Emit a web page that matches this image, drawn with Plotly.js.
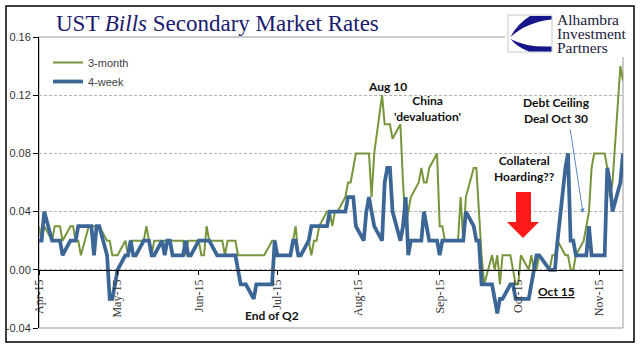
<!DOCTYPE html>
<html>
<head>
<meta charset="utf-8">
<script src="https://cdn.plot.ly/plotly-3.0.1.min.js"></script>
<style>html,body{margin:0;padding:0;background:#fff;}#chart{width:644px;height:361px;}</style>
</head>
<body>
<div id="chart"></div>
<script>
// ---- data (business days, 2015) ----
const dates = [
'2015-04-01','2015-04-02','2015-04-03','2015-04-06','2015-04-07','2015-04-08','2015-04-09','2015-04-10','2015-04-13','2015-04-14','2015-04-15','2015-04-16','2015-04-17','2015-04-20','2015-04-21','2015-04-22','2015-04-23','2015-04-24','2015-04-27','2015-04-28','2015-04-29','2015-04-30',
'2015-05-01','2015-05-04','2015-05-05','2015-05-06','2015-05-07','2015-05-08','2015-05-11','2015-05-12','2015-05-13','2015-05-14','2015-05-15','2015-05-18','2015-05-19','2015-05-20','2015-05-21','2015-05-22','2015-05-26','2015-05-27','2015-05-28','2015-05-29',
'2015-06-01','2015-06-02','2015-06-03','2015-06-04','2015-06-05','2015-06-08','2015-06-09','2015-06-10','2015-06-11','2015-06-12','2015-06-15','2015-06-16','2015-06-17','2015-06-18','2015-06-19','2015-06-22','2015-06-23','2015-06-24','2015-06-25','2015-06-26','2015-06-29','2015-06-30',
'2015-07-01','2015-07-02','2015-07-06','2015-07-07','2015-07-08','2015-07-09','2015-07-10','2015-07-13','2015-07-14','2015-07-15','2015-07-16','2015-07-17','2015-07-20','2015-07-21','2015-07-22','2015-07-23','2015-07-24','2015-07-27','2015-07-28','2015-07-29','2015-07-30','2015-07-31',
'2015-08-03','2015-08-04','2015-08-05','2015-08-06','2015-08-07','2015-08-10','2015-08-11','2015-08-12','2015-08-13','2015-08-14','2015-08-17','2015-08-18','2015-08-19','2015-08-20','2015-08-21','2015-08-24','2015-08-25','2015-08-26','2015-08-27','2015-08-28','2015-08-31',
'2015-09-01','2015-09-02','2015-09-03','2015-09-04','2015-09-08','2015-09-09','2015-09-10','2015-09-11','2015-09-14','2015-09-15','2015-09-16','2015-09-17','2015-09-18','2015-09-21','2015-09-22','2015-09-23','2015-09-24','2015-09-25','2015-09-28','2015-09-29','2015-09-30',
'2015-10-01','2015-10-02','2015-10-05','2015-10-06','2015-10-07','2015-10-08','2015-10-09','2015-10-13','2015-10-14','2015-10-15','2015-10-16','2015-10-19','2015-10-20','2015-10-21','2015-10-22','2015-10-23','2015-10-26','2015-10-27','2015-10-28','2015-10-29','2015-10-30',
'2015-11-02','2015-11-03','2015-11-04','2015-11-05','2015-11-06','2015-11-09','2015-11-10'
];
const threeMonth = [
0.03,0.02,0.03,0.02,0.03,0.03,0.03,0.02,0.03,0.03,0.02,0.02,0.01,0.03,0.03,0.03,0.03,0.03,0.02,0.02,0.01,0.01,
0.01,0.02,0.01,0.02,0.02,0.02,0.02,0.03,0.02,0.01,0.02,0.02,0.02,0.02,0.02,0.02,0.02,0.01,0.02,0.02,
0.02,0.01,0.01,0.03,0.02,0.02,0.02,0.02,0.01,0.02,0.02,0.01,0.01,0.01,0.01,0.01,0.01,0.01,0.01,0.01,0.02,0.02,
0.01,0.01,0.01,0.02,0.03,0.01,0.01,0.02,0.01,0.02,0.02,0.03,0.04,0.04,0.03,0.04,0.04,0.05,0.06,0.06,0.07,0.08,
0.08,0.08,0.08,0.05,0.08,0.12,0.10,0.10,0.10,0.09,0.10,0.06,0.03,0.04,0.05,0.06,0.07,0.06,0.06,0.07,0.08,
0.03,0.03,0.02,0.02,0.02,0.05,0.02,0.05,0.07,0.07,0.04,0.01,-0.01,0.01,0.00,0.01,-0.01,0.01,0.01,0.00,-0.01,
-0.01,0.01,0.00,0.01,0.00,0.00,0.01,0.00,0.01,0.01,0.02,0.01,0.01,0.00,0.00,0.01,0.02,0.03,0.04,0.07,0.08,
0.08,0.08,0.07,0.05,0.06,0.14,0.13
];
const fourWeek = [
0.02,0.02,0.04,0.02,0.02,0.02,0.02,0.01,0.02,0.02,0.02,0.03,0.03,0.03,0.03,0.01,0.03,0.03,0.01,-0.02,-0.02,-0.01,
0.00,0.01,0.01,0.02,0.01,0.01,0.02,0.02,0.02,0.01,0.01,0.02,0.01,0.02,0.02,0.01,0.01,0.02,0.01,0.01,
0.02,0.02,0.02,0.02,0.02,0.01,0.01,0.01,0.01,0.01,0.01,0.00,-0.01,-0.01,-0.01,-0.02,-0.01,-0.01,-0.01,-0.01,-0.01,0.02,
0.01,0.01,0.01,0.02,0.02,0.01,0.01,0.02,0.03,0.03,0.03,0.03,0.03,0.04,0.04,0.04,0.04,0.04,0.05,0.05,0.05,0.03,
0.02,0.04,0.05,0.04,0.03,0.02,0.06,0.07,0.07,0.04,0.02,0.03,0.05,0.01,0.02,0.02,0.02,0.04,0.03,0.02,0.02,
0.01,0.02,0.02,0.02,0.02,0.02,0.02,0.04,0.03,0.02,0.02,-0.01,-0.01,-0.01,-0.02,-0.03,-0.02,-0.02,-0.01,-0.01,-0.02,
-0.02,-0.02,-0.02,-0.01,0.00,0.01,0.01,0.00,0.00,0.00,0.02,0.07,0.08,0.02,0.02,0.01,0.01,0.01,0.03,0.01,0.01,
0.01,0.01,0.07,0.06,0.04,0.06,0.08
];
const seriesNames = ['3-month','4-week'];
const xTickVals = ['2015-04-01','2015-05-01','2015-06-01','2015-07-01','2015-08-01','2015-09-01','2015-10-01','2015-11-01'];
const xTickText = ['Apr-15','May-15','Jun-15','Jul-15','Aug-15','Sep-15','Oct-15','Nov-15'];
const yTickVals = [-0.04,0.00,0.04,0.08,0.12,0.16];
const yTickText = ['-0.04','0.00','0.04','0.08','0.12','0.16'];

// ---- layout geometry helpers (pixel -> paper) ----
const M = {l:39, r:21, t:37, b:33};
const W = 644, H = 361;
const PW = W - M.l - M.r, PH = H - M.t - M.b;
const px = v => (v - M.l) / PW;
const py = v => (H - M.b - v) / PH;
function pathPx(pts){
  return pts.map(p => {
    const c = p[0]; const nums = p.slice(1);
    const out = [];
    for (let i=0;i<nums.length;i+=2){ out.push(px(nums[i]).toFixed(5)+','+py(nums[i+1]).toFixed(5)); }
    return c + ' ' + out.join(' ');
  }).join(' ') + ' Z';
}

const green = '#77963C', blue = '#3B6696';
const traces = [
  {x: dates, y: threeMonth, name: seriesNames[0], type:'scatter', mode:'lines',
   line:{color:green, width:2}},
  {x: dates, y: fourWeek, name: seriesNames[1], type:'scatter', mode:'lines',
   line:{color:blue, width:3.75}}
];

const annFont = {family:'Lato, "Open Sans", sans-serif', size:12, color:'#111'};
const ann = (text, cx, cy) => ({text:'<b>'+text+'</b>', xref:'paper', yref:'paper', x:px(cx), y:py(cy),
  xanchor:'center', yanchor:'middle', showarrow:false, font:annFont, align:'center'});
const logoFont = {family:'"Liberation Serif", "Times New Roman", serif', size:15.5, color:'#1b1b3d'};

const layout = {
  width: W, height: H,
  margin: M,
  paper_bgcolor:'#fff', plot_bgcolor:'#fff',
  title: {text:'UST <i>Bills</i> Secondary Market Rates', xref:'container', yref:'container',
    x: 56/W, xanchor:'left', y: 1 - 23/H, yanchor:'middle',
    font:{family:'"Liberation Serif", "Times New Roman", serif', size:23, color:'#1a1a6e'}},
  showlegend:true,
  legend:{x:px(48), y:py(48), xanchor:'left', yanchor:'top', bgcolor:'rgba(0,0,0,0)',
    font:{family:'"Liberation Sans", Arial, sans-serif', size:11, color:'#404040'}},
  xaxis:{type:'date', range:['2015-04-01','2015-11-10'], anchor:'free', position:0.2,
    showline:true, linecolor:'#000', linewidth:1, ticks:'outside', ticklen:4, tickcolor:'#000',
    tickmode:'array', tickvals:xTickVals, ticktext:xTickText, tickangle:-90,
    tickfont:{family:'"Liberation Serif", "Times New Roman", serif', size:12, color:'#333'},
    showgrid:false, zeroline:false, automargin:false, fixedrange:true},
  yaxis:{range:[-0.04,0.16], tickmode:'array', tickvals:yTickVals, ticktext:yTickText,
    showline:true, linecolor:'#000', linewidth:1, ticks:'outside', ticklen:5, tickcolor:'#000',
    showgrid:true, gridcolor:'#b4b4b4', gridwidth:1, griddash:'3px,2px', zeroline:false,
    tickfont:{family:'"Liberation Sans", Arial, sans-serif', size:11, color:'#333'},
    automargin:false, fixedrange:true},
  shapes:[
    {type:'rect', xref:'paper', yref:'paper', x0:0, x1:1, y0:0, y1:1, line:{color:'#9a9a9a', width:1}, layer:'below'},
    {type:'rect', xref:'paper', yref:'paper', x0:px(505), x1:px(632), y0:py(57), y1:py(8), line:{width:0}, fillcolor:'#fff', layer:'above'},
    {type:'rect', xref:'paper', yref:'paper', x0:px(508), x1:px(552), y0:py(52), y1:py(15), line:{color:'#c8c8c8', width:1}, fillcolor:'#fff', layer:'above'},
    {type:'path', xref:'paper', yref:'paper', layer:'above', fillcolor:'#16168a', line:{width:0},
     path: pathPx([['M',530,16],['L',551.5,16],['L',551.5,19.5],['Q',527,22,510.5,37],['Q',517,24,530,16]])},
    {type:'path', xref:'paper', yref:'paper', layer:'above', fillcolor:'#16168a', line:{width:0},
     path: pathPx([['M',510.5,39],['Q',526,47.5,551.5,46.5],['L',551.5,51.5],['L',529,51.5],['Q',517,47,510.5,39]])},
    {type:'path', xref:'paper', yref:'paper', layer:'above', fillcolor:'#ff1a1a', line:{width:0},
     path: pathPx([['M',516,192],['L',531,192],['L',531,222],['L',539,222],['L',523,238],['L',507,222],['L',516,222]])},
    {type:'rect', xref:'paper', yref:'paper', x0:px(6), x1:px(634), y0:py(342), y1:py(6), line:{color:'#000', width:1.5}, layer:'above'}
  ],
  annotations:[
    ann('Aug 10', 387, 86.5),
    ann("China<br>'devaluation'", 427, 108),
    ann('Debt Ceiling<br>Deal Oct 30', 556, 110),
    ann('Collateral<br>Hoarding??', 524, 168),
    ann('<u>Oct 15</u>', 556, 291),
    ann('End of Q2', 272, 315),
    {text:'', xref:'paper', yref:'paper', x:px(583), y:py(213), ax:-13, ay:-85, showarrow:true,
     arrowhead:2, arrowsize:0.9, arrowwidth:1, arrowcolor:'#5a88c2'},
    {text:'Alhambra', xref:'paper', yref:'paper', x:px(556), y:py(28.5), xanchor:'left', yanchor:'bottom',
     showarrow:false, font:logoFont, borderpad:0},
    {text:'Investment', xref:'paper', yref:'paper', x:px(556), y:py(33.5), xanchor:'left', yanchor:'middle',
     showarrow:false, font:logoFont, borderpad:0},
    {text:'Partners', xref:'paper', yref:'paper', x:px(556), y:py(38.5), xanchor:'left', yanchor:'top',
     showarrow:false, font:logoFont, borderpad:0}
  ]
};

Plotly.newPlot('chart', traces, layout, {staticPlot:true, displayModeBar:false});
</script>
</body>
</html>
